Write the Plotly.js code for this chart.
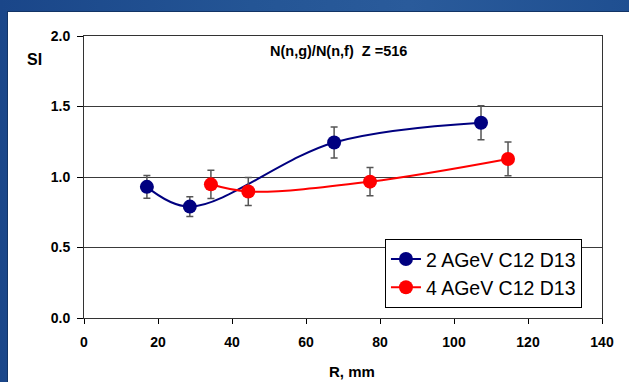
<!DOCTYPE html>
<html>
<head>
<meta charset="utf-8">
<script src="https://cdn.plot.ly/plotly-3.0.1.min.js"></script>
<style>
  html, body { margin: 0; padding: 0; width: 629px; height: 382px; overflow: hidden; }
  body { background-color: #1f4e8f; background: linear-gradient(90deg, #1a4689 0%, #245595 40%, #2a5b9b 65%, #1f4f91 100%); position: relative; }
  #panel { position: absolute; left: 7px; top: 11px; width: 622px; height: 371px; background: #ffffff; border-top: 1px solid #123466; border-left: 1px solid #123466; box-sizing: border-box; }
  #chart { position: absolute; left: 0; top: 0; width: 629px; height: 382px; }
</style>
</head>
<body>
<div id="panel"></div>
<div id="chart"></div>
<script>
// Data
const blueName = '2 AGeV C12 D13';
const blueR  = [17.0, 28.6, 67.6, 107.3];
const blueSI = [0.93, 0.79, 1.245, 1.385];
const blueErr = [0.08, 0.07, 0.11, 0.12];

const redName = '4 AGeV C12 D13';
const redR  = [34.3, 44.4, 77.3, 114.6];
const redSI = [0.948, 0.897, 0.967, 1.128];
const redErr = [0.10, 0.10, 0.10, 0.12];

const xTicks = [0, 20, 40, 60, 80, 100, 120, 140];
const yTicks = [0.0, 0.5, 1.0, 1.5, 2.0];
const yTickText = ['0.0', '0.5', '1.0', '1.5', '2.0'];

const chartTitle = 'N(n,g)/N(n,f)  Z =516';
const xTitle = 'R, mm';
const yTitle = 'SI';

const FONT = 'Liberation Sans, Arial, sans-serif';

function series(name, x, y, err, color) {
  return {
    type: 'scatter', mode: 'lines+markers', name: name,
    x: x, y: y,
    line: { color: color, width: 2, shape: 'spline', smoothing: 1 },
    marker: { color: color, size: 14, symbol: 'circle' },
    error_y: { type: 'data', array: err, visible: true, color: '#555555', thickness: 1.5, width: 3.5 }
  };
}

const data = [
  series(blueName, blueR, blueSI, blueErr, '#000080'),
  series(redName, redR, redSI, redErr, '#ff0000')
];

const axisFont = { family: FONT, size: 14, color: '#000000', weight: 'bold' };

const layout = {
  width: 629, height: 382,
  margin: { l: 84, r: 27, t: 36, b: 64, pad: 0 },
  paper_bgcolor: 'rgba(0,0,0,0)',
  plot_bgcolor: '#ffffff',
  showlegend: true,
  legend: {
    x: 0.581, y: 0.281, xanchor: 'left', yanchor: 'top',
    bgcolor: '#ffffff', bordercolor: '#000000', borderwidth: 1,
    font: { family: FONT, size: 19.5, color: '#000000' },
    itemwidth: 30, tracegroupgap: 0
  },
  xaxis: {
    range: [0, 140], tickvals: xTicks, ticktext: xTicks.map(String),
    showgrid: false, zeroline: false,
    showline: true, linecolor: '#333333', linewidth: 1, mirror: true,
    ticks: 'outside', ticklen: 5, tickcolor: '#000000', tickwidth: 1,
    tickfont: axisFont, ticklabelstandoff: 6, fixedrange: true
  },
  yaxis: {
    range: [0, 2], tickvals: yTicks, ticktext: yTickText,
    showgrid: true, gridcolor: '#3a3a3a', gridwidth: 1, zeroline: false,
    showline: true, linecolor: '#333333', linewidth: 1, mirror: true,
    ticks: 'outside', ticklen: 6, tickcolor: '#000000', tickwidth: 1,
    tickfont: axisFont, ticklabelstandoff: 4, fixedrange: true
  },
  annotations: [
    { text: chartTitle, xref: 'paper', yref: 'paper', x: 0.492, y: 0.948, showarrow: false,
      xanchor: 'center', yanchor: 'middle', font: { family: FONT, size: 14.5, color: '#000000', weight: 'bold' } },
    { text: xTitle, xref: 'paper', yref: 'paper', x: 0.517, y: -0.191, showarrow: false,
      xanchor: 'center', yanchor: 'middle', font: { family: FONT, size: 15, color: '#000000', weight: 'bold' } },
    { text: yTitle, xref: 'paper', yref: 'paper', x: -0.095, y: 0.917, showarrow: false,
      xanchor: 'center', yanchor: 'middle', font: { family: FONT, size: 16, color: '#000000', weight: 'bold' } }
  ]
};

Plotly.newPlot('chart', data, layout, { displayModeBar: false, staticPlot: true });
</script>
</body>
</html>
